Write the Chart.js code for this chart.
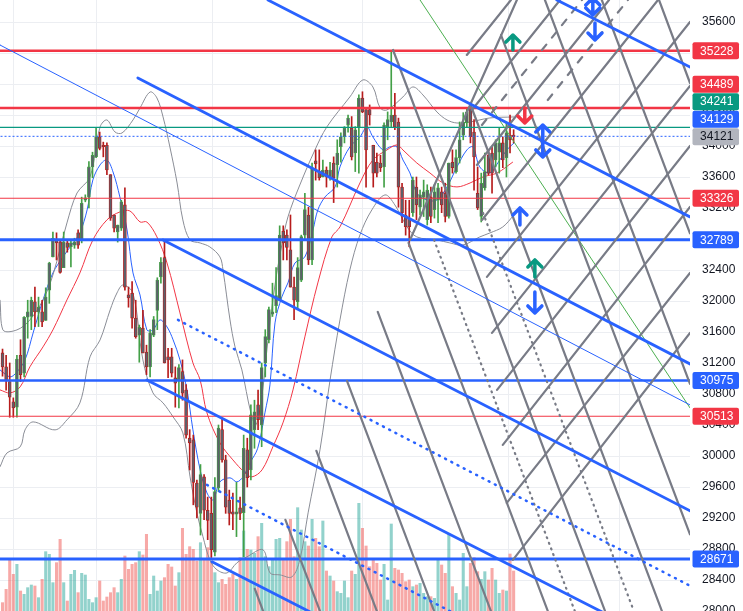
<!DOCTYPE html>
<html>
<head>
<meta charset="utf-8">
<script src="https://cdn.jsdelivr.net/npm/chart.js@4.4.0/dist/chart.umd.min.js"></script>
<style>
  html, body { margin: 0; padding: 0; background: #fff; }
  #wrap { width: 743px; height: 611px; position: relative; }
</style>
</head>
<body>
<div id="wrap"><canvas id="chart" width="743" height="611"></canvas></div>
<script>
/* ====== DATA (bar index, price) ====== */
const opens  = [31330,31150,30960,30700,30630,31300,31070,31790,31800,31990,31860,31860,31750,32140,32570,32790,32760,32430,32750,32700,32720,32880,32790,33300,33340,33730,33860,34120,34010,34010,33630,33110,32890,32940,33240,32080,32100,31780,31560,31650,31340,31150,31560,31880,32310,32560,31280,31280,31010,30980,31090,30850,30230,30210,29650,29260,29730,29300,29260,28760,29590,30340,29950,29430,29280,29250,29330,29270,30080,29820,30340,30660,30400,31200,31500,31830,31940,32010,32900,32850,32660,32180,31990,32270,32850,33110,32530,33810,33670,33600,33690,33600,33780,33760,33990,34120,34270,34230,33910,34250,34620,34470,34470,34010,33790,33780,33730,34250,34310,34400,34310,33470,33110,33070,33140,33470,33210,33340,33050,33340,33180,33300,33410,33390,33090,33790,33670,33850,34140,34300,34490,34180,33390,33090,33460,33880,33910,33820,33920,34040,33850,34140,34140];
const highs  = [31380,31300,31200,30750,31300,31500,31800,32010,32050,32180,32050,32010,32170,32500,32890,32880,32790,32890,32790,32790,32810,32920,33340,33370,33800,33920,34240,34180,34050,34040,33630,33110,32980,33300,33460,32180,32250,32010,31690,31880,31430,31630,31800,32300,32560,32790,31390,31390,31150,31180,31240,30920,30340,30270,29690,29890,29760,29470,29470,29720,30400,30490,30010,29560,29520,29660,29470,30270,30230,30660,30720,30850,31200,31630,31920,32230,32430,32970,32970,32920,33110,32310,32560,32850,33390,33210,33780,33950,33950,33820,33730,33790,33860,34080,34170,34250,34400,34380,34250,34660,34700,34470,34530,34010,33910,33880,34300,34440,35228,34680,34360,33520,33300,33300,33600,33600,33430,33560,33500,33470,33500,33520,33470,33520,33780,33950,33950,34310,34430,34490,34500,34340,33730,33650,33910,33950,33990,34080,34230,34120,34300,34400,34210];
const lows   = [31030,30850,30500,30500,30500,30960,31020,31520,31630,31670,31670,31670,31750,31970,32570,32530,32360,32430,32630,32440,32680,32680,32750,33280,33200,33590,33850,33950,33860,33630,33040,32890,32760,32910,32140,31920,31650,31520,31210,31330,31050,31020,31540,31630,32230,31200,31010,31020,30630,30620,30720,30230,29820,29370,29200,28980,29180,28920,28690,28710,29540,29920,29260,29110,29050,28960,29180,28700,29600,29690,30100,30340,30120,31020,31460,31800,31850,32010,32530,32530,32180,31760,31890,32250,32790,32470,32470,33560,33560,33600,33470,33560,33270,33470,33790,34040,34180,33820,33670,33650,34430,33470,34270,33470,33600,33670,33470,34080,34250,34210,33210,33010,32850,32700,33090,33050,33110,33090,32980,33010,33070,33010,33140,33020,33070,33650,33650,33780,34080,34250,34040,33430,33180,33020,33430,33630,33390,33730,33650,33720,33600,33910,34040];
const closes = [31150,30980,30760,30620,31250,31050,31790,31860,32010,31860,31920,31730,32050,32490,32810,32750,32370,32760,32690,32750,32760,32720,33260,33330,33730,33880,34120,33970,33990,33690,33070,32940,32980,33280,32180,32040,31780,31540,31660,31330,31150,31590,31760,32270,32500,31200,31240,31070,30940,31140,30810,30270,30170,29660,29340,29760,29300,29170,28790,29540,30360,29950,29340,29260,29250,29280,29260,30100,29720,30530,30570,30470,31140,31540,31890,31860,32070,32850,32750,32690,32180,32010,32430,32830,33180,32530,33720,33770,33590,33690,33600,33690,33590,33910,34120,34230,34360,33860,34210,34620,34440,33950,34400,33650,33650,33720,34270,34340,34400,34250,33470,33140,32960,32960,33560,33240,33370,33410,33430,33090,33410,33460,33240,33090,33780,33720,33850,34080,34310,34440,34120,33860,33200,33520,33670,33650,33650,34040,34040,33820,34170,34080,34121];
const volumes = [25,65,155,110,140,60,50,70,78,75,40,95,178,170,85,145,215,85,30,110,122,55,113,108,35,25,40,90,30,42,55,70,55,95,165,125,140,145,178,168,230,50,105,60,90,100,140,132,75,115,248,170,193,185,150,205,155,190,150,115,85,95,80,100,110,95,160,240,185,183,173,223,263,163,133,158,215,218,158,208,275,163,310,243,208,195,275,218,193,270,120,105,90,58,53,90,40,120,110,323,248,195,133,153,143,93,140,33,261,128,123,113,88,93,73,78,83,53,43,43,38,153,138,113,233,73,53,33,173,73,143,160,118,95,118,93,128,93,53,63,60,171,120];

// indicators: bar index and price
const maFastX = [-0.7,2.1,4.0,6.25,8.5,11.25,14.0,16.8,19.6,21.5,23.5,25.1,27.1,29.0,30.7,32.6,34.6,36.25,38.2,40.1,41.8,43.75,45.7,47.4,49.3,51.25,52.9,54.9,56.8,58.5,60.4,63.2,65.1,66.8,68.75,70.9,72.9,74.3,75.7,77.6,79.3,81.25,84.0,86.25,87.6,89.6,92.4,93.75,96.5,99.3,101.25,102.9,105.7,107.6,109.6,111.25,113.2,115.1,117.9,120.7,123.5,126.25,129.0,130.7,132.6,135.4,137.6,140.1,142.1];
const maFastY = [31111,31021,31085,31240,31588,32014,32362,32569,32749,32878,33175,33562,33756,33820,33665,33343,32917,32362,32078,31627,31627,31756,31666,31498,31240,30853,30337,29821,29524,29434,29666,29718,29666,29731,29911,30100,30556,30917,31717,32053,32233,32491,32569,32917,33175,33343,33472,33730,33988,34117,34246,34117,33949,33988,33988,33820,33652,33394,33304,33304,33472,33730,33949,33988,33730,33652,33781,33949,34039];
const maSlowX = [-0.7,2.1,4.9,7.6,11.25,14.0,17.9,21.5,25.1,29.0,32.6,35.4,38.2,40.1,42.9,45.7,49.3,52.9,54.9,56.8,60.4,64.0,67.4,69.3,72.1,75.1,77.9,80.7,84.0,87.6,91.5,93.75,99.3,102.9,106.8,109.6,111.25,115.1,118.75,122.4,126.25,129.9,133.5,137.4,141.8];
const maSlowY = [30853,30814,30892,31150,31408,31627,32014,32362,32788,33046,33149,33162,33020,33020,32827,32491,31846,31201,30982,30556,30169,29950,29782,29731,29821,30118,30427,30853,31537,32233,32827,32956,33523,33820,33949,34014,33949,33781,33652,33523,33472,33523,33601,33652,33794];
const bbUpX = [-0.7,0.1,4.0,7.6,11.25,14.0,17.9,20.7,24.3,27.1,29.0,31.25,33.2,36.25,38.2,41.0,42.9,44.6,46.5,48.5,50.1,52.1,54.9,57.6,60.4,61.25,63.2,64.6,66.5,69.0,70.4,72.1,73.75,75.7,77.6,79.3,82.6,86.8,90.1,96.5,100.1,102.9,104.9,106.8,111.25,114.0,116.8,120.7,123.5,126.25,129.9,135.4,142.1];
const bbUpY = [32014,31627,31627,31756,32014,32336,33007,33394,33601,34246,34336,34181,34168,34336,34491,34697,34620,34375,33988,33523,33046,32788,32749,32698,32569,32401,31756,31408,31111,30556,30401,30788,31498,32207,32723,33085,33497,33949,34246,34633,34852,34762,34491,34465,34633,34762,34659,34439,34336,34297,34310,34362,34375];
const bbLoX = [-0.7,1.25,4.9,6.25,8.5,14.6,17.9,21.5,24.3,27.1,29.9,31.8,33.5,36.25,39.0,41.8,44.6,47.4,50.1,52.1,54.0,55.7,57.6,59.6,62.4,65.1,67.9,72.4,74.3,77.1,80.4,82.6,84.9,88.2,91.0,93.75,96.5,99.3,102.6,106.25,109.0,112.4,115.1,120.7,124.3,127.9,132.6,135.4,139.0,142.1];
const bbLoY = [29860,30040,30118,30337,30440,30337,30466,30685,31279,31498,31885,32104,32207,32100,31240,30814,30685,30504,30298,29731,29266,28957,28660,28531,28492,28621,28699,28789,28492,28466,28441,28660,29266,30079,30982,31756,32401,32852,33175,33369,33240,32956,32827,32788,32749,32723,32827,32878,32956,33111];

// horizontal levels and right-axis tags
const levelPrices = [35228, 34489, 34241, 33326, 32789, 30975, 30513, 28671];
const levelColors = ['#f23645','#f23645','#089981','#f23645','#2962ff','#2962ff','#f23645','#2962ff'];
const levelWidths = [2.5, 2.5, 1.2, 1.2, 3, 2.5, 1.2, 3];
const lastPrice = 34125;
const tagPrices = [35228, 34489, 34241, 34129, 34121, 33326, 32789, 30975, 30513, 28671];
const tagColors = ['#f23645','#f23645','#089981','#2962ff','#b2b5be','#f23645','#2962ff','#2962ff','#f23645','#2962ff'];
const tagText   = ['#fff','#fff','#fff','#fff','#131722','#fff','#fff','#fff','#fff','#fff'];
const yTicks = [28000,28400,28800,29200,29600,30000,30400,30800,31200,31600,32000,32400,32800,33200,33600,34000,34400,34800,35200,35600];

// trend lines: [x1, y1, x2, y2] in bar index / price
const blueThick = [[73.75,35884,191,33085],[37.6,34878,191,31188],[154,35884,191,35020],[44.6,32788,191,29292],[40.1,30982,191,27409],[58.2,28634,110.4,27396]];
const blueThin = [[-0.7,35303,191,30659]];
const blueDotted = [[48.75,31756,191,28325],[56.8,29627,191,26390]];
const greenThin = [[116,35884,191,30621]];
// falling grid lines
const grayFall = [[70.1,28286,72.4,27999],[78.6,29176,88.2,27999],[87.2,30066,104.0,27999],[95.7,30969,119.9,27999],[104.25,31859,135.7,27999],[112.8,32749,151.5,27999],[108.5,35239,167.4,27999],[130.05,34529,183.2,27999],[138.5,35432,191,28990],[150.7,35884,191,30930],[166.5,35884,191,32872],[182.4,35884,191,34813]];
// rising grid lines
const grayRise = [[113.2,32788,142.9,35884],[129.0,35175,141.25,35884],[130.4,34465,154.9,35884],[131.8,33755,168.5,35884],[133.2,33046,182.1,35884],[134.6,32311,191,35600],[136.0,31588,191,34775],[137.4,30853,191,34001],[139.0,30144,191,33214],[140.1,29395,191,32362],[141.8,28660,191,31588]];
const grayDashed = [[133.2,34271,161,35884],[151.5,34594,173.75,35884]];
const grayDotted = [[119.9,32788,159.0,27999],[133.5,33136,175.4,27999]];

// arrows: x, tail price, tip price, colour, double headed
const arrowX    = [141.8, 145.1, 150.1, 143.75, 147.9, 147.9, 164.0, 164.6];
const arrowFrom = [35239, 34491, 33859, 32981, 32311, 32117, 35690, 35587];
const arrowTo   = [35432, 34297, 34271, 33201, 32530, 31846, 35910, 35368];
const arrowCol  = ['#089981','#f23645','#2962ff','#2962ff','#089981','#2962ff','#2962ff','#2962ff'];
const arrowBoth = [false, false, true, false, false, false, true, false];

const monthGrid = [14.6, 37.6, 79.3, 121.0, 159.9, 183.2];

/* ====== BUILD DATASETS ====== */
const idx = opens.map((_, i) => i);
const isUp = i => closes[i] >= opens[i];
const wickCol = i => isUp(i) ? '#43a047' : '#b71c1c';
const FONT = '"Liberation Sans", Arial, sans-serif';

function pairs(xs, ys) { return xs.map((x, i) => ({ x: x, y: ys[i] })); }
function segLines(list, color, width, dash, order) {
    return list.map(s => ({
        type: 'line', data: [{ x: s[0], y: s[1] }, { x: s[2], y: s[3] }],
        borderColor: color, borderWidth: width, borderDash: dash || [],
        pointRadius: 0, order: order, yAxisID: 'y', borderCapStyle: 'round'
    }));
}
function indicator(xs, ys, color) {
    return { type: 'line', data: pairs(xs, ys), borderColor: color, borderWidth: 1,
        pointRadius: 0, tension: 0.35, order: 8, yAxisID: 'y' };
}

const datasets = [];
datasets.push({
    type: 'bar', yAxisID: 'vol', order: 20, grouped: false, barThickness: 2.4,
    data: idx.map(i => ({ x: i, y: volumes[i] })),
    backgroundColor: idx.map(i => isUp(i) ? 'rgba(38,166,154,0.5)' : 'rgba(239,83,80,0.5)')
});
datasets.push(indicator(bbUpX, bbUpY, '#8a8d96'));
datasets.push(indicator(bbLoX, bbLoY, '#8a8d96'));
datasets.push(indicator(maSlowX, maSlowY, '#f23645'));
datasets.push(indicator(maFastX, maFastY, '#2962ff'));
datasets.push({
    type: 'bar', yAxisID: 'y', order: 6, grouped: false, barThickness: 1,
    data: idx.map(i => ({ x: i, y: [lows[i], highs[i]] })),
    backgroundColor: idx.map(wickCol)
});
datasets.push({
    type: 'bar', yAxisID: 'y', order: 5, grouped: false, barThickness: 3,
    data: idx.map(i => ({ x: i, y: [opens[i], closes[i]] })),
    backgroundColor: '#5d606b', borderColor: idx.map(wickCol), borderWidth: 0.8, borderSkipped: false,
    minBarLength: 1
});
levelPrices.forEach((p, k) => {
    datasets.push({ type: 'line', data: [{ x: -5, y: p }, { x: 200, y: p }], borderColor: levelColors[k],
        borderWidth: levelWidths[k], pointRadius: 0, order: 3, yAxisID: 'y' });
});
datasets.push({ type: 'line', data: [{ x: -5, y: lastPrice }, { x: 200, y: lastPrice }], borderColor: '#2962ff',
    borderWidth: 1, borderDash: [2, 2], pointRadius: 0, order: 3, yAxisID: 'y' });
datasets.push(...segLines(grayFall, '#787b86', 2.2, null, 2));
datasets.push(...segLines(grayRise, '#787b86', 2.2, null, 2));
datasets.push(...segLines(grayDashed, '#787b86', 2.2, [7, 9], 2));
datasets.push(...segLines(grayDotted, '#787b86', 2.2, [1, 5], 2));
datasets.push(...segLines(greenThin, '#4caf50', 1, null, 2));
datasets.push(...segLines(blueThin, '#2962ff', 1, null, 1));
datasets.push(...segLines(blueThick, '#2962ff', 2.8, null, 1));
datasets.push(...segLines(blueDotted, '#2962ff', 2.5, [1, 6], 1));

/* ====== PLUGINS ====== */
const arrowPlugin = {
    id: 'arrows',
    afterDatasetsDraw(chart) {
        const c = chart.ctx, xs = chart.scales.x, ys = chart.scales.y;
        c.save();
        c.beginPath();
        c.rect(chart.chartArea.left, chart.chartArea.top, chart.chartArea.width, chart.chartArea.height);
        c.clip();
        arrowX.forEach((ax, k) => {
            const px = xs.getPixelForValue(ax);
            const y1 = ys.getPixelForValue(arrowFrom[k]);
            const y2 = ys.getPixelForValue(arrowTo[k]);
            c.strokeStyle = arrowCol[k];
            c.lineWidth = 3.5;
            c.lineCap = 'round';
            c.lineJoin = 'round';
            c.beginPath();
            c.moveTo(px, y1); c.lineTo(px, y2);
            const head = (yTip, dir) => {
                c.moveTo(px - 7, yTip - dir * 7); c.lineTo(px, yTip); c.lineTo(px + 7, yTip - dir * 7);
            };
            head(y2, y2 > y1 ? 1 : -1);
            if (arrowBoth[k]) head(y1, y1 > y2 ? 1 : -1);
            c.stroke();
        });
        c.restore();
    }
};

const tagPlugin = {
    id: 'tags',
    afterDraw(chart) {
        const c = chart.ctx, ys = chart.scales.y;
        const items = tagPrices.map((p, k) => ({ k: k, y: ys.getPixelForValue(p) }))
            .sort((a, b) => b.y - a.y);
        let prev = null;
        items.forEach(it => {
            if (prev !== null && prev - it.y < 17.5) it.y = prev - 17.5;
            prev = it.y;
        });
        c.save();
        c.font = '12px ' + FONT;
        c.textAlign = 'center';
        c.textBaseline = 'middle';
        items.forEach(it => {
            const x0 = chart.chartArea.right + 2.5, w = 46.5, h = 17;
            c.fillStyle = tagColors[it.k];
            c.beginPath();
            c.roundRect(x0, it.y - h / 2, w, h, 2);
            c.fill();
            c.fillStyle = tagText[it.k];
            c.fillText(String(tagPrices[it.k]), x0 + w / 2 + 1, it.y + 0.5);
        });
        c.restore();
    }
};

/* ====== CHART ====== */
new Chart(document.getElementById('chart').getContext('2d'), {
    type: 'line',
    data: { datasets: datasets },
    plugins: [arrowPlugin, tagPlugin],
    options: {
        responsive: false,
        animation: false,
        events: [],
        layout: { padding: 0 },
        plugins: { legend: { display: false }, tooltip: { enabled: false } },
        scales: {
            x: {
                type: 'linear', min: -0.7, max: 191.0, offset: false,
                ticks: { display: false },
                border: { display: false },
                grid: { color: '#eceef2', drawTicks: false },
                afterBuildTicks: s => { s.ticks = monthGrid.map(v => ({ value: v })); }
            },
            y: {
                position: 'right', min: 28000, max: 35884,
                grid: { color: '#eceef2', drawTicks: false },
                border: { display: false },
                afterBuildTicks: s => { s.ticks = yTicks.map(v => ({ value: v })); },
                ticks: {
                    autoSkip: false, padding: 12, color: '#131722',
                    font: { size: 12, family: FONT },
                    callback: v => String(v)
                },
                afterFit: s => { s.width = 53; s.paddingTop = 0; s.paddingBottom = 0; }
            },
            vol: { display: false, min: 0, max: 1833 }
        }
    }
});
</script>
</body>
</html>
